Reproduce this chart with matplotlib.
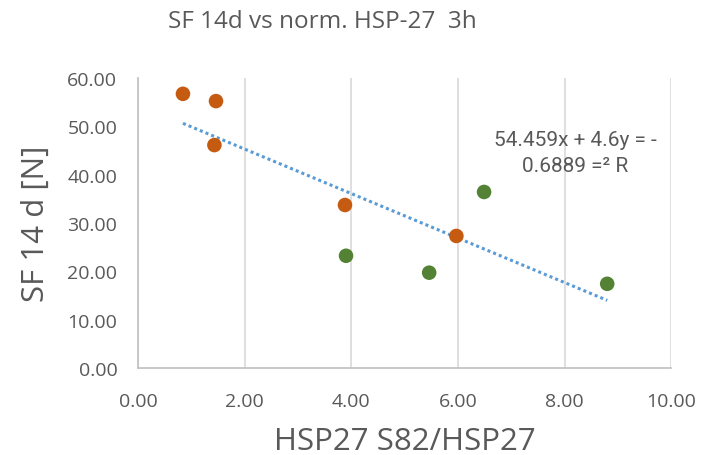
import matplotlib
matplotlib.use("Agg")
import matplotlib.pyplot as plt
import numpy as np

# data
orange_x = [0.84, 1.46, 1.43, 3.88, 5.97]
orange_y = [56.7, 55.2, 46.1, 33.7, 27.3]
green_x = [3.90, 5.46, 6.49, 8.80]
green_y = [23.2, 19.7, 36.4, 17.4]

# trendline as printed on the chart
slope = -4.6
intercept = 54.459
r2 = 0.6889

x_ticks = [0, 2, 4, 6, 8, 10]
y_ticks = [0, 10, 20, 30, 40, 50, 60]

plt.rcParams['font.family'] = ['Open Sans', 'DejaVu Sans']

fig = plt.figure(figsize=(7.05, 4.56), dpi=100)
ax = fig.add_axes([0.196, 0.191, 0.756, 0.636])

all_x = orange_x + green_x
tx = np.array([min(all_x), max(all_x)])
ax.plot(tx, slope * tx + intercept, linestyle=(0, (1, 1)), color='#5B9BD5',
        linewidth=2.2, zorder=2)

ax.scatter(orange_x, orange_y, s=110, color='#C55A11', edgecolors='none', zorder=3)
ax.scatter(green_x, green_y, s=110, color='#548235', edgecolors='none', zorder=3)

ax.set_xlim(0, 10)
ax.set_ylim(0, 60)
ax.set_xticks(x_ticks)
ax.set_yticks(y_ticks)
ax.set_xticklabels([f"{v:.2f}" for v in x_ticks])
ax.set_yticklabels([f"{v:.2f}" for v in y_ticks])
ax.tick_params(length=0, labelsize=14, colors='#595959')
ax.tick_params(axis='x', pad=17)
ax.tick_params(axis='y', pad=15)
ax.xaxis.grid(True, color='#D9D9D9', linewidth=1.2)
ax.set_axisbelow(True)
for s in ['top', 'right']:
    ax.spines[s].set_visible(False)
ax.spines['left'].set_color('#BFBFBF')
ax.spines['bottom'].set_color('#BFBFBF')
ax.spines['left'].set_linewidth(1.2)
ax.spines['bottom'].set_linewidth(1.2)

ax.set_xlabel("HSP27 S82/HSP27", fontsize=22.5, color='#595959', labelpad=12)
ax.set_ylabel("SF 14 d [N]", fontsize=22.5, color='#595959', labelpad=12)
fig.text(0.457, 0.952, "SF 14d vs norm. HSP-27  3h", fontsize=17.5,
         color='#595959', ha='center', va='center')

ax.text(8.2, 44.6, f"{intercept:.3f}x + {abs(slope):.1f}y = -\n{r2:.4f} =\u00b2 R",
        fontsize=15, color='#595959', ha='center', va='center',
        linespacing=1.45, family=['Roboto', 'DejaVu Sans'])

fig.savefig("out.png", dpi=100)
